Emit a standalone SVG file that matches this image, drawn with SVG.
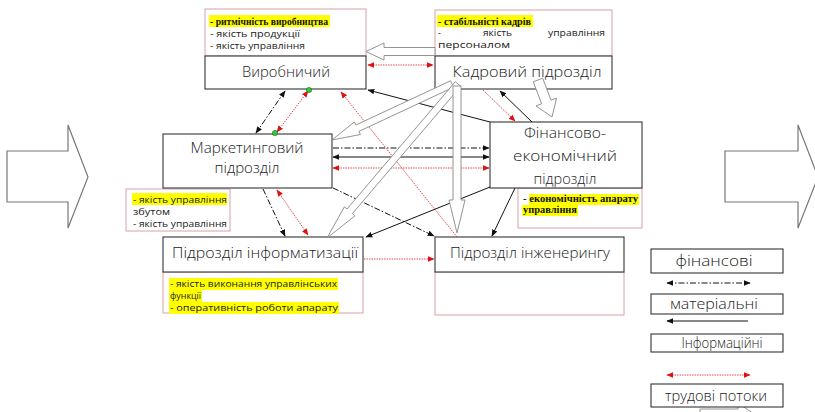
<svg xmlns="http://www.w3.org/2000/svg" width="815" height="412" viewBox="0 0 815 412">
<defs>
<marker id="hb" viewBox="0 0 10 10" refX="9" refY="5" markerWidth="7" markerHeight="7" markerUnits="userSpaceOnUse" orient="auto-start-reverse"><path d="M0,1 L10,5 L0,9 Z" fill="#111"/></marker>
<marker id="hr" viewBox="0 0 10 10" refX="9" refY="5" markerWidth="7" markerHeight="7" markerUnits="userSpaceOnUse" orient="auto-start-reverse"><path d="M0,1 L10,5 L0,9 Z" fill="#e01010"/></marker>
</defs>
<style>
.box{fill:#fff;stroke:#333;stroke-width:1.1}
.pink{fill:#fff;stroke:#d8a0a6;stroke-width:1}
.lbl{font-family:"Open Sans","DejaVu Sans",sans-serif;font-weight:300;font-size:15px;fill:#222}
.sm{font-family:"Open Sans","DejaVu Sans",sans-serif;font-size:9px;fill:#222}
.sr{font-family:"Liberation Serif",serif;font-size:10px;fill:#111;font-weight:600}
.hl{fill:#ffff00}
.big{fill:#fff;stroke:#777;stroke-width:1.2}
.hol{fill:#fff;stroke:#888;stroke-width:0.9}
.dd{fill:none;stroke:#111;stroke-width:1;stroke-dasharray:6 2 1.5 2}
.so{fill:none;stroke:#111;stroke-width:1}
.rd{fill:none;stroke:#e02020;stroke-width:0.8;stroke-dasharray:1.5 1}
</style>
<rect width="815" height="412" fill="#fff"/>

<g id="input-arrow"><polygon class="big" points="7,151 68,151 68,125 88,177 68,228 68,202 7,202"/></g>
<g id="output-arrow"><polygon class="big" points="725,151 798,151 798,125 818,177 798,228 798,202 725,202"/></g>

<g id="vyrobnychyi">
<rect class="pink" x="205" y="9" width="161" height="47"/>
<rect class="hl" x="209" y="15" width="121" height="12"/>
<text class="sr" x="210" y="25" textLength="118" lengthAdjust="spacingAndGlyphs">- ритмічність виробництва</text>
<text class="sm" x="210" y="37" textLength="90" lengthAdjust="spacingAndGlyphs">- якість продукції</text>
<text class="sm" x="210" y="49" textLength="95" lengthAdjust="spacingAndGlyphs">- якість управління</text>
<rect class="box" x="205" y="56" width="161" height="33"/>
<text class="lbl" x="286" y="77" text-anchor="middle" textLength="88" lengthAdjust="spacingAndGlyphs">Виробничий</text>
</g>

<g id="kadrovyi">
<rect class="pink" x="435" y="10" width="177" height="46"/>
<rect class="hl" x="437" y="15" width="96" height="12"/>
<text class="sr" x="438" y="25" textLength="93" lengthAdjust="spacingAndGlyphs">- стабільністі кадрів</text>
<text class="sm" x="438" y="36">-</text>
<text class="sm" x="483" y="36" textLength="29" lengthAdjust="spacingAndGlyphs">якість</text>
<text class="sm" x="548" y="36" textLength="57" lengthAdjust="spacingAndGlyphs">управління</text>
<text class="sm" x="438" y="48" textLength="72" lengthAdjust="spacingAndGlyphs">персоналом</text>
<rect class="box" x="435" y="56" width="177" height="33"/>
<text class="lbl" x="527" y="77" text-anchor="middle" textLength="149" lengthAdjust="spacingAndGlyphs">Кадровий підрозділ</text>
</g>

<g id="marketynhovyi">
<rect class="pink" x="126" y="189" width="104" height="42"/>
<rect class="hl" x="132" y="193" width="95" height="12"/>
<text class="sm" x="133" y="203" textLength="94" lengthAdjust="spacingAndGlyphs">- якість управління</text>
<text class="sm" x="133" y="215" textLength="37" lengthAdjust="spacingAndGlyphs">збутом</text>
<text class="sm" x="133" y="227" textLength="94" lengthAdjust="spacingAndGlyphs">- якість управління</text>
<rect class="box" x="163" y="134" width="169" height="54"/>
<text class="lbl" x="247" y="153" text-anchor="middle" font-size="16" textLength="113" lengthAdjust="spacingAndGlyphs">Маркетинговий</text>
<text class="lbl" x="247" y="173" text-anchor="middle" font-size="16" textLength="65" lengthAdjust="spacingAndGlyphs">підрозділ</text>
</g>

<g id="finansovyi">
<rect class="pink" x="518" y="188" width="124" height="40"/>
<rect class="hl" x="529" y="194" width="110" height="11"/>
<rect class="hl" x="522" y="205" width="56" height="11"/>
<text class="sr" x="523" y="202" font-size="9" textLength="115" lengthAdjust="spacingAndGlyphs">- економічність  апарату</text>
<text class="sr" x="523" y="213" font-size="9" textLength="54" lengthAdjust="spacingAndGlyphs">управління</text>
<rect class="box" x="490" y="122" width="152" height="66"/>
<text class="lbl" x="565" y="138" text-anchor="middle" font-size="16" textLength="82" lengthAdjust="spacingAndGlyphs">Фінансово-</text>
<text class="lbl" x="565" y="161" text-anchor="middle" font-size="16" textLength="104" lengthAdjust="spacingAndGlyphs">економічний</text>
<text class="lbl" x="565" y="184" text-anchor="middle" font-size="16" textLength="63" lengthAdjust="spacingAndGlyphs">підрозділ</text>
</g>

<g id="informatyzatsii">
<rect class="pink" x="163" y="272" width="200" height="41"/>
<rect class="hl" x="169" y="278" width="169" height="12"/>
<rect class="hl" x="169" y="290" width="33" height="12"/>
<rect class="hl" x="169" y="302" width="170" height="12"/>
<text class="sm" x="170" y="287" textLength="167" lengthAdjust="spacingAndGlyphs">- якість виконання управлінських</text>
<text class="sm" x="170" y="299" textLength="31" lengthAdjust="spacingAndGlyphs">функції</text>
<text class="sm" x="170" y="311" textLength="168" lengthAdjust="spacingAndGlyphs">- оперативність роботи апарату</text>
<rect class="box" x="163" y="237" width="200" height="35"/>
<text class="lbl" x="265" y="258" text-anchor="middle" textLength="186" lengthAdjust="spacingAndGlyphs">Підрозділ інформатизації</text>
</g>

<g id="inzhenerynhu">
<rect class="pink" x="435" y="272" width="189" height="43"/>
<rect class="box" x="435" y="237" width="189" height="35"/>
<text class="lbl" x="530" y="258" text-anchor="middle" textLength="160" lengthAdjust="spacingAndGlyphs">Підрозділ інженерингу</text>
</g>

<g id="connectors">
<line class="rd" x1="368" y1="65" x2="433" y2="65" marker-start="url(#hr)" marker-end="url(#hr)"/>
<polygon class="hol" points="435,47.5 384,47.5 384,43 366,51.5 384,60 384,55.5 435,55.5"/>
<line class="dd" x1="285" y1="91" x2="256" y2="133" marker-start="url(#hb)" marker-end="url(#hb)"/>
<line class="rd" x1="308" y1="91" x2="277" y2="132" marker-start="url(#hr)" marker-end="url(#hr)"/>
<line class="rd" x1="457" y1="237" x2="341" y2="92" marker-end="url(#hr)"/>
<line class="so" x1="490" y1="122" x2="368" y2="90" marker-end="url(#hb)"/>
<line class="rd" x1="483" y1="90" x2="515" y2="121" marker-end="url(#hr)"/>
<line class="so" x1="532" y1="122" x2="500" y2="91" marker-end="url(#hb)"/>
<line class="dd" x1="333" y1="148" x2="489" y2="148" marker-end="url(#hb)"/>
<line class="so" x1="333" y1="157" x2="489" y2="157" marker-start="url(#hb)" marker-end="url(#hb)"/>
<line class="rd" x1="333" y1="168" x2="489" y2="168" marker-start="url(#hr)" marker-end="url(#hr)"/>
<line class="so" x1="490" y1="187" x2="366" y2="237" marker-end="url(#hb)"/>
<line class="dd" x1="333" y1="188" x2="434" y2="236" marker-end="url(#hb)"/>
<line class="dd" x1="263" y1="189" x2="285" y2="236" marker-end="url(#hb)"/>
<line class="rd" x1="277" y1="190" x2="308" y2="235" marker-start="url(#hr)" marker-end="url(#hr)"/>
<line class="so" x1="515" y1="188" x2="492" y2="236" marker-end="url(#hb)"/>
<line class="rd" x1="364" y1="259" x2="434" y2="259" marker-end="url(#hr)"/>
<polygon class="hol" points="542.7,78.2 551,100.2 556.6,98.1 552,117 536,105.9 541.6,103.8 533.3,81.8"/>
<polygon class="hol" points="450.5,80.8 355.9,125 354.4,121.9 332,140 360.4,134.5 358.9,131.4 453.5,87.2"/>
<polygon class="hol" points="460.7,86.3 352.4,213.6 355,215.8 327,238 344.4,206.8 347,209 455.3,81.7"/>
<polygon class="hol" points="453,86 461,86 461,200 465,200 457,233 449,200 453,200"/>
<circle cx="309" cy="90" r="2.6" fill="#3c3" stroke="#176017" stroke-width="0.6"/>
<circle cx="275" cy="133" r="2.6" fill="#3c3" stroke="#176017" stroke-width="0.6"/>
</g>

<g id="legend">
<polygon class="hol" points="700,409 738,409 738,403 760,418 700,418"/>
<rect class="box" x="651" y="249" width="132" height="24"/>
<text class="lbl" x="714" y="266" text-anchor="middle" font-size="14" textLength="77" lengthAdjust="spacingAndGlyphs">фінансові</text>
<line class="dd" x1="667" y1="283" x2="750" y2="283" marker-start="url(#hb)" marker-end="url(#hb)"/>
<rect class="box" x="651" y="294" width="132" height="20"/>
<text class="lbl" x="714" y="309" text-anchor="middle" font-size="14" textLength="88" lengthAdjust="spacingAndGlyphs">матеріальні</text>
<line class="so" x1="748" y1="321" x2="667" y2="321" marker-end="url(#hb)"/>
<rect class="box" x="651" y="334" width="132" height="18"/>
<text class="lbl" x="722" y="348" text-anchor="middle" font-size="14" textLength="81" lengthAdjust="spacingAndGlyphs">Інформаційні</text>
<line class="rd" x1="667" y1="375" x2="750" y2="375" marker-start="url(#hr)" marker-end="url(#hr)"/>
<rect class="box" x="651" y="384" width="132" height="23"/>
<text class="lbl" x="716" y="401" text-anchor="middle" font-size="14" textLength="102" lengthAdjust="spacingAndGlyphs">трудові потоки</text>
</g>
</svg>
